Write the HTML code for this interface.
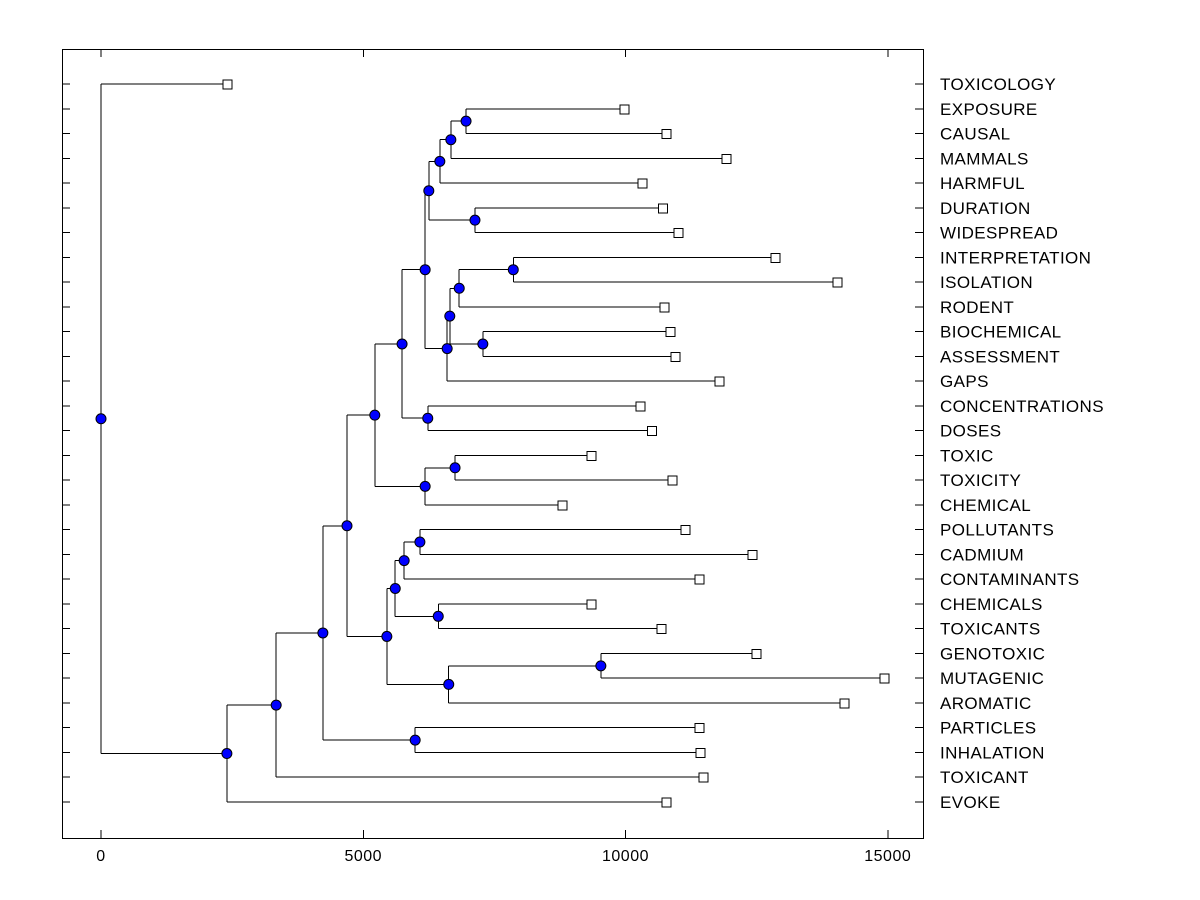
<!DOCTYPE html>
<html><head><meta charset="utf-8"><style>
body{margin:0;background:#fff;}
svg{display:block;font-family:"Liberation Sans",Arial,sans-serif;}
line,rect{shape-rendering:crispEdges;}
</style></head><body>
<svg id="chart" width="1200" height="900">
<rect x="62.5" y="49.5" width="861" height="789" fill="none" stroke="#000" stroke-width="1"/>
<g id="g"></g>
</svg>
<script>
const labels=["TOXICOLOGY","EXPOSURE","CAUSAL","MAMMALS","HARMFUL","DURATION","WIDESPREAD","INTERPRETATION","ISOLATION","RODENT","BIOCHEMICAL","ASSESSMENT","GAPS","CONCENTRATIONS","DOSES","TOXIC","TOXICITY","CHEMICAL","POLLUTANTS","CADMIUM","CONTAMINANTS","CHEMICALS","TOXICANTS","GENOTOXIC","MUTAGENIC","AROMATIC","PARTICLES","INHALATION","TOXICANT","EVOKE"];
const leafValues=[2400,9970,10770,11920,10310,10710,11000,12850,14030,10730,10850,10940,11780,10280,10500,9340,10890,8790,11130,12410,11400,9340,10680,12490,14930,14170,11400,11420,11480,10770];
const merges=[[1,2,6960],[30,3,6670],[31,4,6460],[5,6,7130],[32,33,6250],[7,8,7860],[35,9,6830],[10,11,7280],[36,37,6650],[38,12,6600],[34,39,6180],[13,14,6230],[40,41,5740],[15,16,6750],[43,17,6180],[42,44,5220],[18,19,6080],[46,20,5780],[21,22,6430],[47,48,5610],[23,24,9530],[50,25,6630],[49,51,5450],[45,52,4690],[26,27,5990],[53,54,4230],[55,28,3340],[56,29,2400],[0,57,0]];
const xTicks=[0,5000,10000,15000];

const NS="http://www.w3.org/2000/svg";
const g=document.getElementById('g');
const X=v=>101+v*0.05245;
const Y=i=>84+i*(802-84)/29;
function el(t,a){const e=document.createElementNS(NS,t);for(const k in a)e.setAttribute(k,a[k]);g.appendChild(e);return e;}
const nx=[],ny=[];
labels.forEach((l,i)=>{nx[i]=X(leafValues[i]);ny[i]=Y(i);});
merges.forEach((m,k)=>{const id=labels.length+k;nx[id]=X(m[2]);ny[id]=(ny[m[0]]+ny[m[1]])/2;});
labels.forEach((l,i)=>{
 const t1=el('line',{x1:62,x2:70,y1:Y(i),y2:Y(i),stroke:'#000'});
 
 const t2=el('line',{x1:915,x2:923,y1:Y(i),y2:Y(i),stroke:'#000'});
 
 const tx=el('text',{x:940,y:Y(i)+6,'font-size':17,'letter-spacing':0.4,fill:'#000'});tx.textContent=l;
 
});
xTicks.forEach(v=>{
 const a=el('line',{x1:X(v),x2:X(v),y1:49,y2:57,stroke:'#000'});
 
 const b=el('line',{x1:X(v),x2:X(v),y1:830,y2:838,stroke:'#000'});
 
 const t=el('text',{x:X(v),y:861,'font-size':16,'letter-spacing':0.5,'text-anchor':'middle',fill:'#000'});t.textContent=v;
 
});
merges.forEach((m,k)=>{
 const id=labels.length+k,x=nx[id];
 const v=el('line',{x1:x,x2:x,y1:ny[m[0]],y2:ny[m[1]],stroke:'#000'});
 
 m.slice(0,2).forEach(c=>{
  const h=el('line',{x1:x,x2:nx[c],y1:ny[c],y2:ny[c],stroke:'#000'});
  
 });
});
labels.forEach((l,i)=>{
 const r=el('rect',{x:nx[i]-4,y:ny[i]-4,width:9,height:9,fill:'#fff',stroke:'#000'});
 
});
merges.forEach((m,k)=>{
 const id=labels.length+k;
 const c=el('circle',{cx:nx[id],cy:ny[id],r:5,fill:'#0000ff',stroke:'#000'});
 
});
</script>
</body></html>
